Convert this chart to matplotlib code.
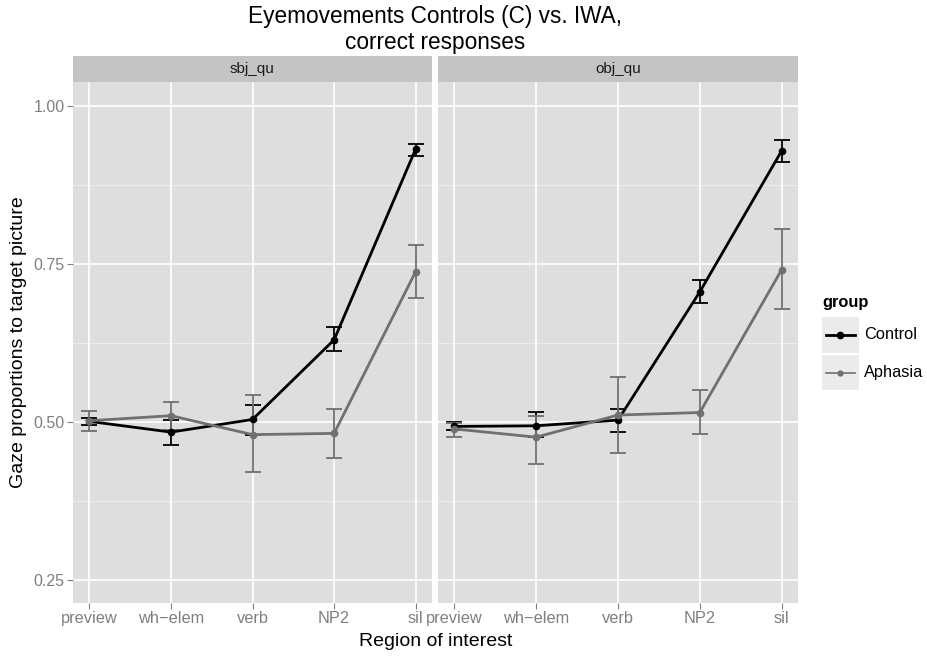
import matplotlib
matplotlib.use("Agg")
import matplotlib.pyplot as plt
from matplotlib.lines import Line2D
import numpy as np

plt.rcParams['font.family'] = ['Liberation Sans', 'DejaVu Sans']

regions = ["preview", "wh\u2212elem", "verb", "NP2", "sil"]
panels = ["sbj_qu", "obj_qu"]
groups = ["Control", "Aphasia"]

# sbj_qu
sbj_control_mean = [0.501, 0.484, 0.504, 0.630, 0.932]
sbj_control_lo   = [0.496, 0.463, 0.480, 0.613, 0.921]
sbj_control_hi   = [0.506, 0.503, 0.527, 0.651, 0.940]
sbj_aphasia_mean = [0.502, 0.510, 0.480, 0.482, 0.738]
sbj_aphasia_lo   = [0.486, 0.488, 0.421, 0.443, 0.696]
sbj_aphasia_hi   = [0.518, 0.532, 0.542, 0.521, 0.780]

# obj_qu
obj_control_mean = [0.493, 0.494, 0.503, 0.706, 0.929]
obj_control_lo   = [0.488, 0.476, 0.484, 0.688, 0.911]
obj_control_hi   = [0.500, 0.516, 0.521, 0.724, 0.947]
obj_aphasia_mean = [0.489, 0.476, 0.511, 0.515, 0.741]
obj_aphasia_lo   = [0.477, 0.434, 0.451, 0.481, 0.679]
obj_aphasia_hi   = [0.498, 0.510, 0.571, 0.550, 0.806]

yticks = [0.25, 0.50, 0.75, 1.00]
yminor = [0.375, 0.625, 0.875]

data = {
    "sbj_qu": {"Control": (sbj_control_mean, sbj_control_lo, sbj_control_hi),
               "Aphasia": (sbj_aphasia_mean, sbj_aphasia_lo, sbj_aphasia_hi)},
    "obj_qu": {"Control": (obj_control_mean, obj_control_lo, obj_control_hi),
               "Aphasia": (obj_aphasia_mean, obj_aphasia_lo, obj_aphasia_hi)},
}
colors = {"Control": "#000000", "Aphasia": "#707070"}
lws = {"Control": 2.0, "Aphasia": 2.0}

W, H = 927, 656
fig = plt.figure(figsize=(W / 100, H / 100), dpi=100)

panel_x = [(73, 432), (438, 798)]
top, bottom = 82, 603
strip_top = 56

def fx(px):
    return px / W

def fy(py):
    return 1 - py / H

bg = "#DEDEDE"
strip_bg = "#C4C4C4"
x = np.arange(len(regions))

for i, pname in enumerate(panels):
    x0, x1 = panel_x[i]
    ax = fig.add_axes([fx(x0), fy(bottom), fx(x1 - x0), (bottom - top) / H])
    ax.set_facecolor(bg)
    for s in ax.spines.values():
        s.set_visible(False)
    ax.set_xlim(-0.2, 4.2)
    ax.set_ylim(0.2136, 1.038)
    for yv in yminor:
        ax.axhline(yv, color="#F0F0F0", lw=0.6, zorder=0)
    for yv in yticks:
        ax.axhline(yv, color="white", lw=1.2, zorder=0.5)
    for xv in x:
        ax.axvline(xv, color="white", lw=1.2, zorder=0.5)
    for g in groups:
        m, lo, hi = data[pname][g]
        m = np.array(m); lo = np.array(lo); hi = np.array(hi)
        ax.errorbar(x, m, yerr=[m - lo, hi - m], fmt='none', ecolor=colors[g],
                    elinewidth=1.3, capsize=6, capthick=1.3, zorder=2)
        ax.plot(x, m, color=colors[g], lw=lws[g], marker='o', markersize=4.5,
                zorder=3)
    ax.set_xticks(x)
    ax.set_xticklabels(regions, fontsize=11.8, color="#7F7F7F")
    ax.tick_params(axis='x', length=4, color="#7F7F7F", pad=2)
    ax.set_yticks(yticks)
    if i == 0:
        ax.set_yticklabels(["%.2f" % v for v in yticks], fontsize=11.5, color="#7F7F7F")
        ax.tick_params(axis='y', length=4, color="#7F7F7F", pad=2)
        ax.set_ylabel("Gaze proportions to target picture", fontsize=14, labelpad=5)
    else:
        ax.tick_params(axis='y', length=0, labelleft=False)
    # strip
    sax = fig.add_axes([fx(x0), fy(top), fx(x1 - x0), (top - strip_top) / H])
    sax.set_facecolor(strip_bg)
    sax.set_xticks([]); sax.set_yticks([])
    for s in sax.spines.values():
        s.set_visible(False)
    sax.text(0.5, 0.5, pname, ha='center', va='center', fontsize=11,
             color="#1A1A1A", transform=sax.transAxes)

fig.text(fx((73 + 798) / 2), fy(641), "Region of interest", ha='center', va='center',
         fontsize=14)
fig.text(fx(435), fy(16), "Eyemovements Controls (C) vs. IWA,", ha='center',
         va='center', fontsize=16.3)
fig.text(fx(435), fy(43), "correct responses", ha='center', va='center',
         fontsize=16.3)

# legend
fig.text(fx(822), fy(302), "group", ha='left', va='center', fontsize=11.8,
         fontweight='bold')
key_boxes = [(317, 353), (355, 390)]
for g, (y0, y1) in zip(groups, key_boxes):
    kax = fig.add_axes([fx(822), fy(y1), fx(858.7 - 822), (y1 - y0) / H])
    kax.set_facecolor("#EBEBEB")
    kax.set_xlim(0, 1); kax.set_ylim(0, 1)
    kax.set_xticks([]); kax.set_yticks([])
    for s in kax.spines.values():
        s.set_visible(False)
    kax.add_line(Line2D([0.1, 0.9], [0.5, 0.5], color=colors[g],
                        lw=2.0 if g == "Control" else 1.2))
    kax.plot([0.5], [0.5], marker='o', color=colors[g],
             markersize=4.5 if g == "Control" else 3.5)
    fig.text(fx(864), fy((y0 + y1) / 2), g, ha='left', va='center', fontsize=11.8)

fig.savefig("out.png", dpi=100)
